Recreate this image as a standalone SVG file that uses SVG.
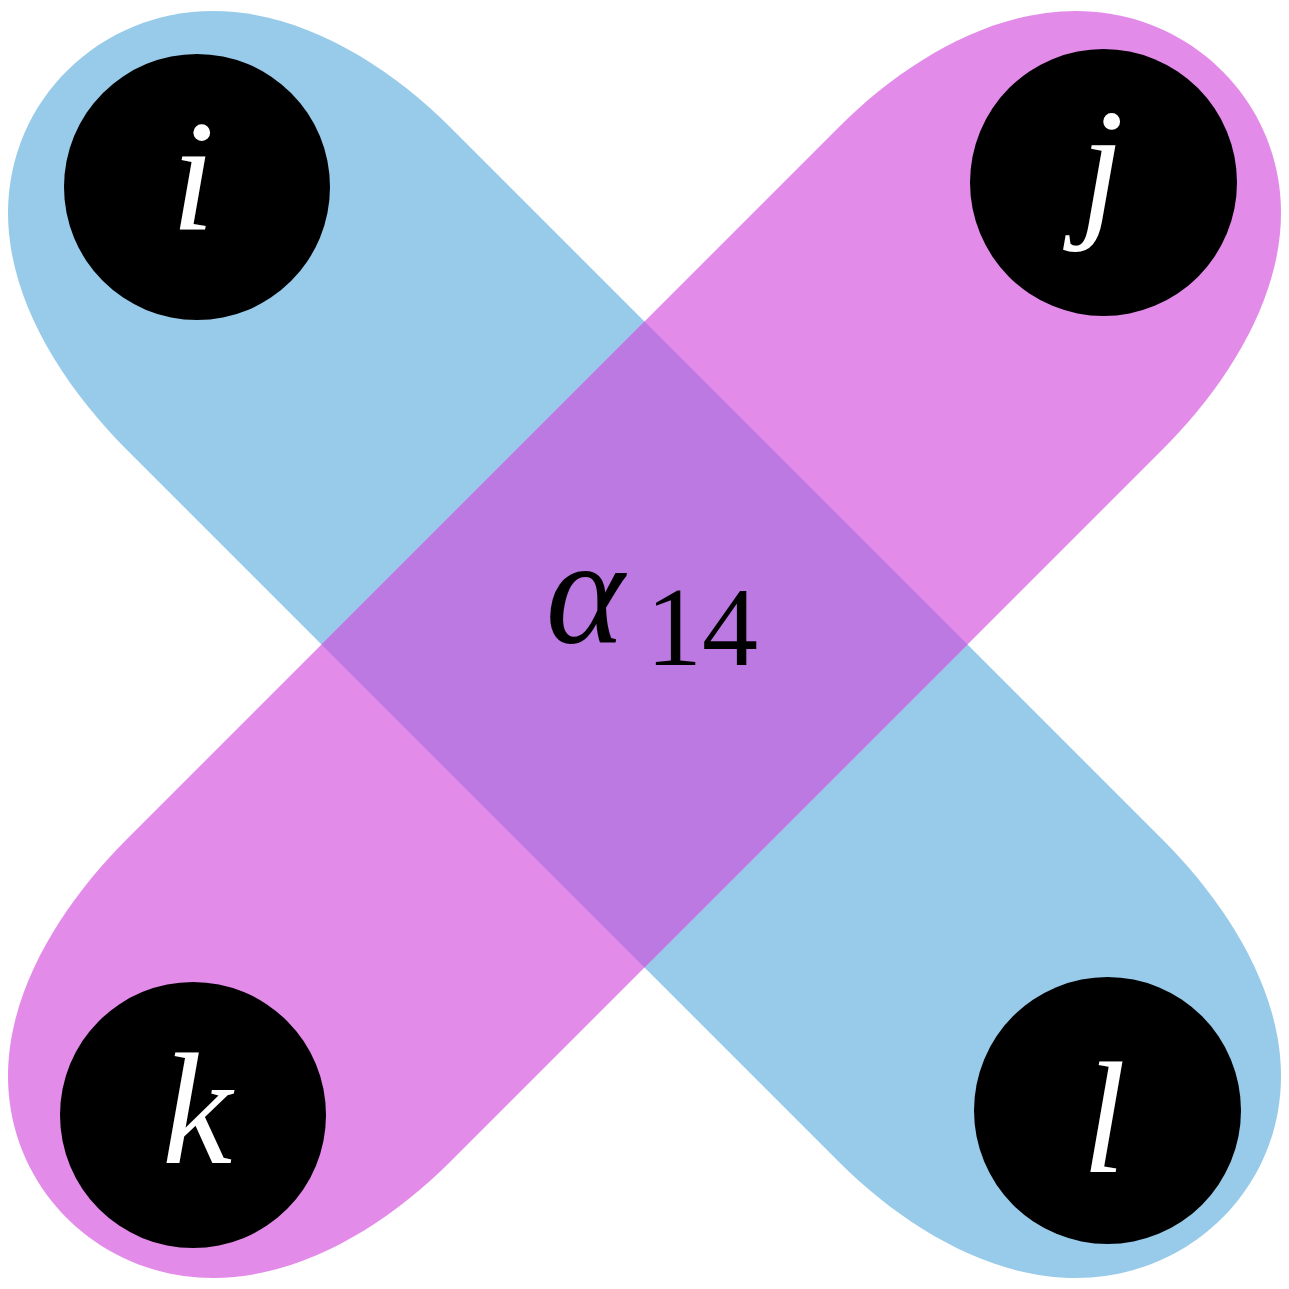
<svg xmlns="http://www.w3.org/2000/svg" xmlns:xlink="http://www.w3.org/1999/xlink" width="1289" height="1289" viewBox="0 0 1289 1289">
<style>
.blue{fill:#98CBEA}
.mag{fill:#E38BE9}
.over{fill:#BC79E1}
.node circle{fill:#000}
.lbl{font-style:italic;fill:#fff;font-size:158px;text-anchor:middle}
.math{fill:#000}
</style>
<defs>
<path id="band" d="M450,127 L1162,839 C1226,903 1281,989 1281,1076 C1281,1189 1189,1278 1076,1278 C989,1278 903,1226 839,1162 L127,450 C63,386 8,300 8,213 C8,100 100,11 213,11 C300,11 386,63 450,127 Z"/>
</defs>
<rect width="1289" height="1289" fill="#fff"/>
<g id="hyperedges">
<use xlink:href="#band" href="#band" class="blue"/>
<use xlink:href="#band" href="#band" class="mag" transform="matrix(-1 0 0 1 1289 0)"/>
<path class="over" d="M644.5,321.5 L967.5,644.5 L644.5,967.5 L321.5,644.5 Z"/>
</g>
<g id="connectors"></g>
<g font-family="Liberation Serif, Times New Roman, serif">
<g id="node-i" class="node"><circle cx="197" cy="187" r="133"/><text class="lbl" x="193" y="230">i</text></g>
<g id="node-j" class="node"><circle cx="1103.5" cy="182.5" r="133.5"/><text class="lbl" x="1102" y="218">j</text></g>
<g id="node-k" class="node"><circle cx="193" cy="1115" r="133"/><text class="lbl" x="197" y="1163">k</text></g>
<g id="node-l" class="node"><circle cx="1107.5" cy="1110.5" r="133.5"/><text class="lbl" x="1104" y="1172">l</text></g>
<g id="label-alpha"><text class="math" x="585" y="643" text-anchor="middle" font-style="italic" font-size="150">α</text><text class="math" x="702" y="665" text-anchor="middle" font-size="112">14</text></g>
</g>
</svg>
